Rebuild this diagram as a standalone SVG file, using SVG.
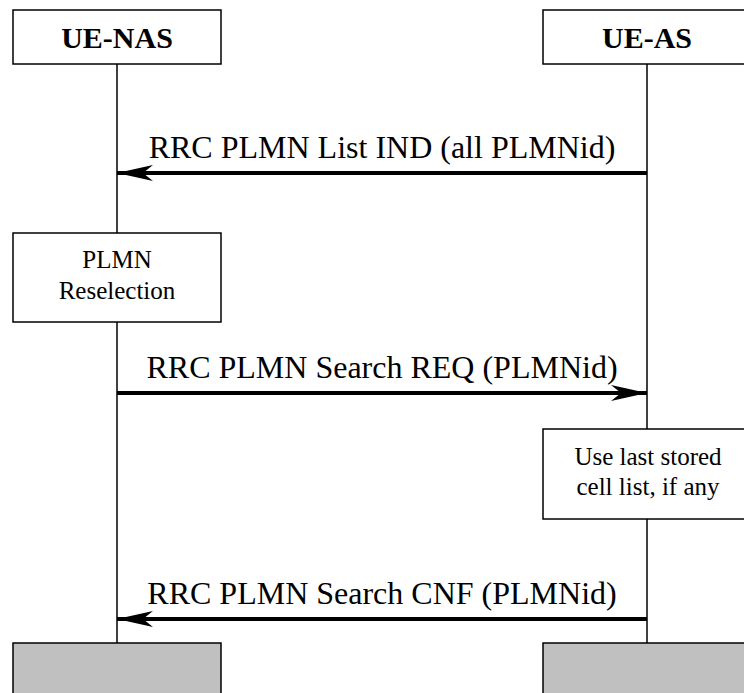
<svg xmlns="http://www.w3.org/2000/svg" width="744" height="693" viewBox="0 0 744 693">
<style>
.box{fill:#fff;stroke:#000;stroke-width:1.5}
.end{fill:#c0c0c0;stroke:#000;stroke-width:1.5}
.life{stroke:#000;stroke-width:1.5;fill:none}
.msg{stroke:#000;stroke-width:4;fill:none}
.hd{font-family:"Liberation Serif",serif;font-weight:bold;font-size:30px;text-anchor:middle}
.lb{font-family:"Liberation Serif",serif;font-size:32px;text-anchor:middle}
.bt{font-family:"Liberation Serif",serif;font-size:25px;text-anchor:middle}
</style>
<defs>
<marker id="ah" viewBox="0 0 36 16" refX="36" refY="8" markerWidth="36" markerHeight="16" markerUnits="userSpaceOnUse" orient="auto">
<path d="M0,0 L36,8 L0,16 L10,8 Z" fill="#000"/>
</marker>
</defs>
<rect width="744" height="693" fill="#fff"/>
<g id="lifelines">
<line class="life" x1="117" y1="64" x2="117" y2="233"/>
<line class="life" x1="117" y1="322" x2="117" y2="643"/>
<line class="life" x1="647" y1="64" x2="647" y2="429"/>
<line class="life" x1="647" y1="519" x2="647" y2="643"/>
</g>
<g id="ue-nas">
<rect class="box" x="13" y="10" width="208" height="54"/>
<text class="hd" x="117" y="48">UE-NAS</text>
</g>
<g id="ue-as">
<rect class="box" x="543" y="10" width="210" height="54"/>
<text class="hd" x="647" y="48">UE-AS</text>
</g>
<g id="plmn-reselection">
<rect class="box" x="13" y="233" width="208" height="89"/>
<text class="bt" x="117" y="268">PLMN</text>
<text class="bt" x="117" y="299">Reselection</text>
</g>
<g id="use-last-stored">
<rect class="box" x="543" y="429" width="210" height="90"/>
<text class="bt" x="648" y="465">Use last stored</text>
<text class="bt" x="648" y="495">cell list, if any</text>
</g>
<g id="end-nas">
<rect class="end" x="13" y="643" width="208" height="60"/>
</g>
<g id="end-as">
<rect class="end" x="543" y="643" width="210" height="60"/>
</g>
<g id="connectors">
<line class="msg" x1="647" y1="173" x2="117" y2="173" marker-end="url(#ah)"/>
<line class="msg" x1="117" y1="393" x2="647" y2="393" marker-end="url(#ah)"/>
<line class="msg" x1="647" y1="619" x2="117" y2="619" marker-end="url(#ah)"/>
</g>
<g id="labels">
<text class="lb" x="382" y="158">RRC PLMN List IND (all PLMNid)</text>
<text class="lb" x="382" y="378">RRC PLMN Search REQ (PLMNid)</text>
<text class="lb" x="382" y="604">RRC PLMN Search CNF (PLMNid)</text>
</g>
</svg>
